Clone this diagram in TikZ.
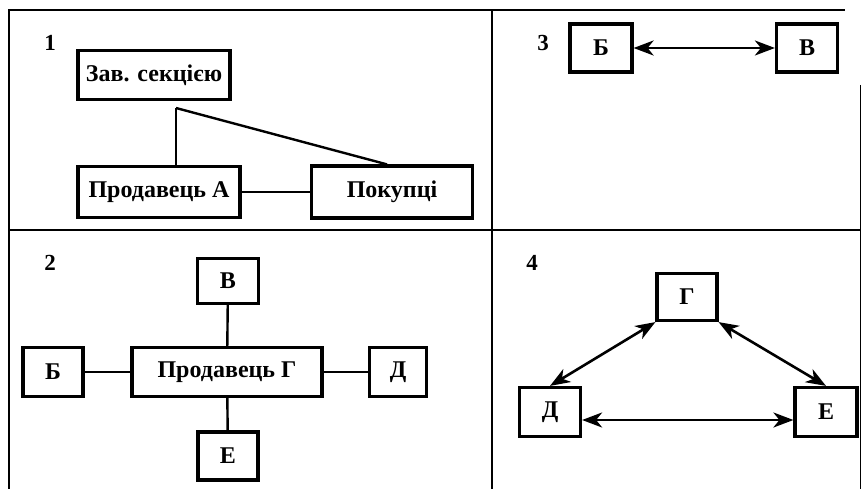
\documentclass[tikz,border=0pt]{standalone}
\usepackage{fontspec}
\setmainfont{Liberation Serif}
\usetikzlibrary{arrows.meta}

\tikzset{sbox/.style = {shape = rectangle,
                        color = black,
                        line width = 3.2pt,
                        inner sep = 1pt,
                        font = \fontsize{24}{27}\selectfont\bfseries,
                        draw},
         snum/.style = {font = \fontsize{23}{26}\selectfont\bfseries},
         link/.style = {line width = 2.4pt},
         thin link/.style = {line width = 1.3pt},
         dlink/.style = {line width = 2.6pt,
                         {Stealth[length=20pt,width=15pt,inset=6pt]}-{Stealth[length=20pt,width=15pt,inset=6pt]}},
         frame/.style = {line width = 2.2pt}}

\begin{document}
\begin{tikzpicture}[x=1pt,y=-1pt]
		\useasboundingbox (0,0) rectangle (861,489);
		% frame
		\draw[frame] (9,489) -- (9,10) -- (845,10);
		\draw[line width=1pt] (860,85) -- (860,489);
		\draw[frame] (9,230) -- (861,230);
		\draw[frame] (492,10) -- (492,489);
		% 1
		\node[snum] (n1) at (50,43) {1};
		\node[sbox, minimum width=152pt, minimum height=49pt] (zav) at (154,75) {Зав. секцією};
		\node[sbox, minimum width=162pt, minimum height=51pt] (prodA) at (159,192) {Продавець А};
		\node[sbox, minimum width=161pt, minimum height=52pt] (pok) at (392,192) {Покупці};
		\coordinate (fork) at (176,108);
		\path[link] (fork) edge (fork |- prodA.north);
		\path[link] (fork) edge ([xshift=-5pt]pok.north);
		\path[thin link] (prodA) edge (pok);
		% 3
		\node[snum] (n3) at (543,43) {3};
		\node[sbox, minimum width=62pt, minimum height=48pt] (b3) at (601,48) {Б};
		\node[sbox, minimum width=61pt, minimum height=48pt] (v3) at (807,48) {В};
		\path[dlink] (b3) edge (v3);
		% 2
		\node[snum] (n2) at (50,263) {2};
		\node[sbox, minimum width=190pt, minimum height=49pt] (prodG) at (227,372) {Продавець Г};
		\node[sbox, minimum width=61pt, minimum height=45pt] (v2) at (228,281) {В};
		\node[sbox, minimum width=60pt, minimum height=49pt] (b2) at (53,372) {Б};
		\node[sbox, minimum width=57pt, minimum height=49pt] (d2) at (398,372) {Д};
		\node[sbox, minimum width=60pt, minimum height=48pt] (e2) at (228,456) {Е};
		\path[link] (prodG) edge (v2);
		\path[link] (prodG) edge (b2);
		\path[link] (prodG) edge (d2);
		\path[link] (prodG) edge (e2);
		% 4
		\node[snum] (n4) at (532,263) {4};
		\node[sbox, minimum width=60pt, minimum height=47pt] (g4) at (687,297) {Г};
		\node[sbox, minimum width=61pt, minimum height=49pt] (d4) at (550,412) {Д};
		\node[sbox, minimum width=62pt, minimum height=49pt] (e4) at (826,412) {Е};
		\path[dlink] (g4.south west) edge (d4.north);
		\path[dlink] (g4.south east) edge (e4.north);
		\path[dlink] ([yshift=-8pt]d4.east) edge ([yshift=-8pt]e4.west);
	\end{tikzpicture}
\end{document}
